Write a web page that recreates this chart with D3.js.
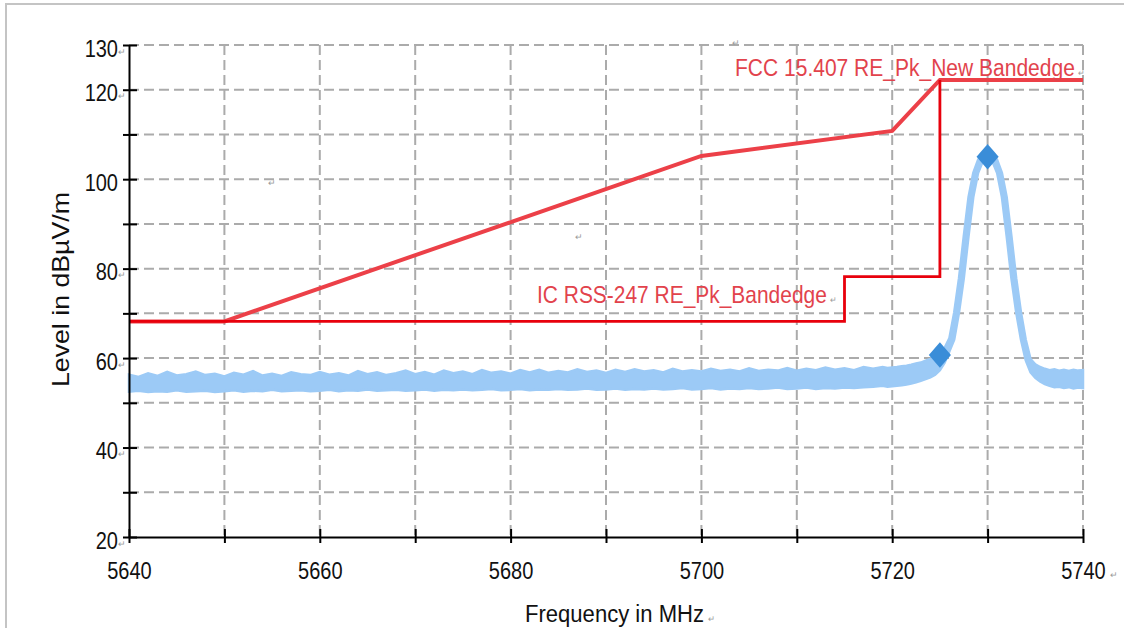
<!DOCTYPE html>
<html>
<head>
<meta charset="utf-8">
<script src="https://cdn.jsdelivr.net/npm/d3@7"></script>
<style>
  body { margin: 0; background: #fff; }
  svg { display: block; font-family: "Liberation Sans", Arial, sans-serif; }
  .grid line { stroke: #ababab; stroke-width: 2; stroke-dasharray: 10,5; }
  .axis path, .axis line { stroke: #000; stroke-width: 2; }
  .axis text { fill: #111; font-size: 23px; font-family: "Liberation Sans", Arial, sans-serif; }
  svg text.mark, svg tspan.mark { fill: #9a9a9a; font-size: 9px; }
</style>
</head>
<body>
<div id="chart"></div>
<script>
// ticks
var xTicks = [5640, 5650, 5660, 5670, 5680, 5690, 5700, 5710, 5720, 5730, 5740];
var xLabels = [5640, 5660, 5680, 5700, 5720, 5740];
var yTicks = [20, 30, 40, 50, 60, 70, 80, 90, 100, 110, 120, 130];
var yLabels = [20, 40, 60, 80, 100, 120, 130];

// limit lines
var fccFreq = [5640, 5650, 5700, 5720, 5725, 5740];
var fccLevel = [68.2, 68.2, 105.2, 110.8, 122.2, 122.2];
var icFreq = [5640, 5715, 5715, 5725, 5725];
var icLevel = [68.2, 68.2, 78.2, 78.2, 122.2];

// measured trace (max hold), read as upper / lower edge of the band
var traceFreq = [
  5640, 5641, 5642, 5643, 5644, 5645, 5646, 5647, 5648, 5649,
  5650, 5651, 5652, 5653, 5654, 5655, 5656, 5657, 5658, 5659,
  5660, 5661, 5662, 5663, 5664, 5665, 5666, 5667, 5668, 5669,
  5670, 5671, 5672, 5673, 5674, 5675, 5676, 5677, 5678, 5679,
  5680, 5681, 5682, 5683, 5684, 5685, 5686, 5687, 5688, 5689,
  5690, 5691, 5692, 5693, 5694, 5695, 5696, 5697, 5698, 5699,
  5700, 5701, 5702, 5703, 5704, 5705, 5706, 5707, 5708, 5709,
  5710, 5711, 5712, 5713, 5714, 5715, 5716, 5717, 5718, 5719,
  5719.5, 5720, 5720.5, 5721, 5721.5, 5722, 5722.5, 5723, 5723.5, 5724,
  5724.5, 5725, 5725.5, 5726, 5726.5, 5727, 5727.5, 5728, 5728.5, 5729,
  5729.5, 5730, 5730.5, 5731, 5731.5, 5732, 5732.5, 5733, 5733.5, 5734,
  5734.5, 5735, 5735.5, 5736, 5736.5, 5737, 5737.5, 5738, 5738.5, 5739,
  5739.5, 5740
];
var traceHigh = [
  56.3, 55.8, 56.6, 56.0, 56.9, 56.1, 56.4, 57.0, 56.2, 56.5,
  55.9, 56.7, 56.3, 57.1, 56.1, 56.5, 56.0, 56.8, 56.4, 56.2,
  56.9, 56.3, 56.6, 56.1, 57.1, 56.4, 56.8, 56.2, 56.6, 57.2,
  56.4, 56.9, 56.3, 57.2, 56.6, 57.0, 56.4, 57.3, 56.7, 57.0,
  56.5, 57.3, 56.8, 57.4, 56.7, 57.1, 56.8, 57.5, 56.9, 57.2,
  56.7, 57.4, 56.9, 57.5, 57.0, 57.3, 56.8, 57.6, 57.0, 57.3,
  57.0, 57.6, 57.1, 57.4, 57.0, 57.7, 57.1, 57.4, 57.2, 57.8,
  57.2, 57.6, 57.3, 57.9, 57.4, 57.7, 57.3, 58.0, 57.6, 58.0,
  57.8, 57.9, 58.0, 58.2, 58.3, 58.5, 58.8, 59.0, 59.4, 59.8,
  60.3, 61.3, 62.3, 64.5, 70.2, 77.8, 87.2, 96.0, 101.4, 104.3,
  105.8, 106.2, 105.8, 104.3, 101.4, 96.0, 87.2, 77.8, 70.2, 64.1,
  59.8, 58.6, 58.0, 57.6, 57.3, 57.5, 57.2, 57.4, 57.1, 57.4,
  57.2, 57.3
];
var traceLow = [
  52.5, 52.7, 52.4, 52.6, 52.5, 52.8, 52.5, 52.6, 52.7, 52.4,
  52.6, 52.8, 52.5, 52.7, 52.6, 52.9, 52.6, 52.7, 52.8, 52.6,
  52.7, 52.9, 52.6, 52.8, 52.7, 53.0, 52.7, 52.8, 52.9, 52.7,
  52.8, 53.0, 52.7, 52.9, 52.8, 53.0, 52.8, 52.9, 53.1, 52.8,
  52.9, 53.1, 52.8, 53.0, 52.9, 53.1, 52.9, 53.0, 53.2, 52.9,
  53.0, 53.2, 52.9, 53.1, 53.0, 53.2, 53.0, 53.1, 53.3, 53.0,
  53.1, 53.3, 53.0, 53.2, 53.1, 53.3, 53.1, 53.2, 53.4, 53.1,
  53.2, 53.4, 53.1, 53.3, 53.2, 53.4, 53.3, 53.5, 53.6, 53.8,
  53.6, 53.7, 53.8, 53.9, 54.1, 54.3, 54.6, 54.9, 55.3, 55.7,
  56.3, 57.3, 59.0, 61.5, 64.1, 70.2, 77.8, 87.2, 96.0, 101.4,
  104.0, 104.6, 104.0, 101.4, 96.0, 87.2, 77.8, 70.2, 64.1, 59.5,
  56.8, 55.6, 54.8, 54.2, 53.8, 53.5, 53.6, 53.3, 53.5, 53.2,
  53.4, 53.3
];

// markers on the trace
var markerFreq = [5725, 5730];
var markerLevel = [60.7, 105.0];

var width = 1124, height = 628;

var svg = d3.select("#chart").append("svg")
    .attr("width", width)
    .attr("height", height);

var x = d3.scaleLinear().domain([5640, 5740]).range([129, 1083]);
var y = d3.scaleLinear().domain([20, 130]).range([537, 45]);

// outer frame (top and left edges visible)
svg.append("path")
    .attr("d", "M6,628V4H1124")
    .attr("fill", "none")
    .attr("stroke", "#c4c4c4")
    .attr("stroke-width", 2);

// grid
var grid = svg.append("g").attr("class", "grid");
grid.selectAll(".h").data(yTicks.filter(function(d){ return d > 20; }))
  .enter().append("line")
    .attr("x1", x(5640)).attr("x2", x(5740))
    .attr("y1", function(d){ return y(d); })
    .attr("y2", function(d){ return y(d); });
grid.selectAll(".v").data(xTicks.filter(function(d){ return d > 5640; }))
  .enter().append("line")
    .attr("y1", y(130)).attr("y2", y(20))
    .attr("x1", function(d){ return x(d); })
    .attr("x2", function(d){ return x(d); });

// trace band
var area = d3.area()
    .x(function(i){ return x(traceFreq[i]); })
    .y0(function(i){ return y(traceLow[i]); })
    .y1(function(i){ return y(traceHigh[i]); });

svg.append("path")
    .attr("d", area(d3.range(traceFreq.length)))
    .attr("fill", "#9ccaf6")
    .attr("stroke", "#9ccaf6")
    .attr("stroke-width", 2.5)
    .attr("stroke-linejoin", "miter");

// limit lines
var line = d3.line()
    .x(function(d){ return x(d[0]); })
    .y(function(d){ return y(d[1]); });

svg.append("path")
    .attr("d", line(d3.zip(fccFreq, fccLevel)))
    .attr("fill", "none")
    .attr("stroke", "#ec4048")
    .attr("stroke-width", 4);

svg.append("path")
    .attr("d", line(d3.zip(icFreq, icLevel)))
    .attr("fill", "none")
    .attr("stroke", "#e8000c")
    .attr("stroke-width", 2.8);

// markers
svg.selectAll(".marker").data(d3.zip(markerFreq, markerLevel))
  .enter().append("path")
    .attr("d", d3.symbol(d3.symbolSquare).size(245)())
    .attr("transform", function(d){
      return "translate(" + x(d[0]) + "," + y(d[1]) + ") scale(1,1.15) rotate(45)";
    })
    .attr("fill", "#3a8dd8");

// axes
var xAxis = svg.append("g")
    .attr("class", "axis")
    .attr("transform", "translate(0," + y(20) + ")")
    .call(d3.axisBottom(x).tickValues(xTicks).tickSize(6).tickSizeOuter(0)
      .tickFormat(function(d){ return xLabels.indexOf(d) >= 0 ? d : ""; }));
xAxis.selectAll(".tick line").attr("y1", -8);
xAxis.selectAll(".tick text")
    .attr("y", 0).attr("dy", 0)
    .attr("text-anchor", "middle")
    .attr("transform", "translate(0,42) scale(0.87,1)");

var yAxis = svg.append("g")
    .attr("class", "axis")
    .attr("transform", "translate(" + x(5640) + ",0)")
    .call(d3.axisLeft(y).tickValues(yTicks).tickSize(6).tickSizeOuter(0)
      .tickFormat(function(d){ return yLabels.indexOf(d) >= 0 ? d : ""; }));
yAxis.selectAll(".tick line").attr("x1", 8);
yAxis.selectAll(".tick text")
    .attr("x", 0).attr("dy", 0)
    .attr("text-anchor", "end")
    .attr("transform", "translate(-11,11) scale(0.87,1)");

// paragraph marks after tick labels
yAxis.selectAll(".tick").filter(function(d){ return yLabels.indexOf(d) >= 0 && d !== 100; })
  .append("text")
    .attr("class", "mark")
    .attr("text-anchor", "start")
    .attr("x", -11).attr("y", 9)
    .text("\u21B5");

// text squeezed to the width it has in the picture, optional paragraph mark
function label(x0, y0, size, fill, str, target, rot, mark) {
  var t = svg.append("text")
      .attr("font-size", size)
      .attr("fill", fill)
      .text(str);
  var s = target / t.node().getComputedTextLength();
  t.attr("transform", "translate(" + x0 + "," + y0 + ")" +
      (rot ? " rotate(" + rot + ")" : "") + " scale(" + s + ",1)");
  if (mark) {
    t.append("tspan").attr("class", "mark").attr("dx", 4).text("\u21B5");
  }
  return t;
}

// limit labels
label(735, 76, 24, "#e2434c", "FCC 15.407 RE_Pk_New Bandedge", 340, 0, true);
label(537, 303, 24, "#e2434c", "IC RSS-247 RE_Pk_Bandedge", 290, 0, true);

// axis titles
label(69, 387, 23, "#111", "Level in dB\u00B5V/m", 195, -90, false);
label(525, 622, 24, "#111", "Frequency in MHz", 179, 0, true);

// stray paragraph marks
var marks = [[1110, 578], [732, 46], [268, 186], [575, 240]];
svg.selectAll(".pm").data(marks)
  .enter().append("text")
    .attr("class", "mark")
    .attr("x", function(d){ return d[0]; })
    .attr("y", function(d){ return d[1]; })
    .text("\u21B5");
</script>
</body>
</html>
